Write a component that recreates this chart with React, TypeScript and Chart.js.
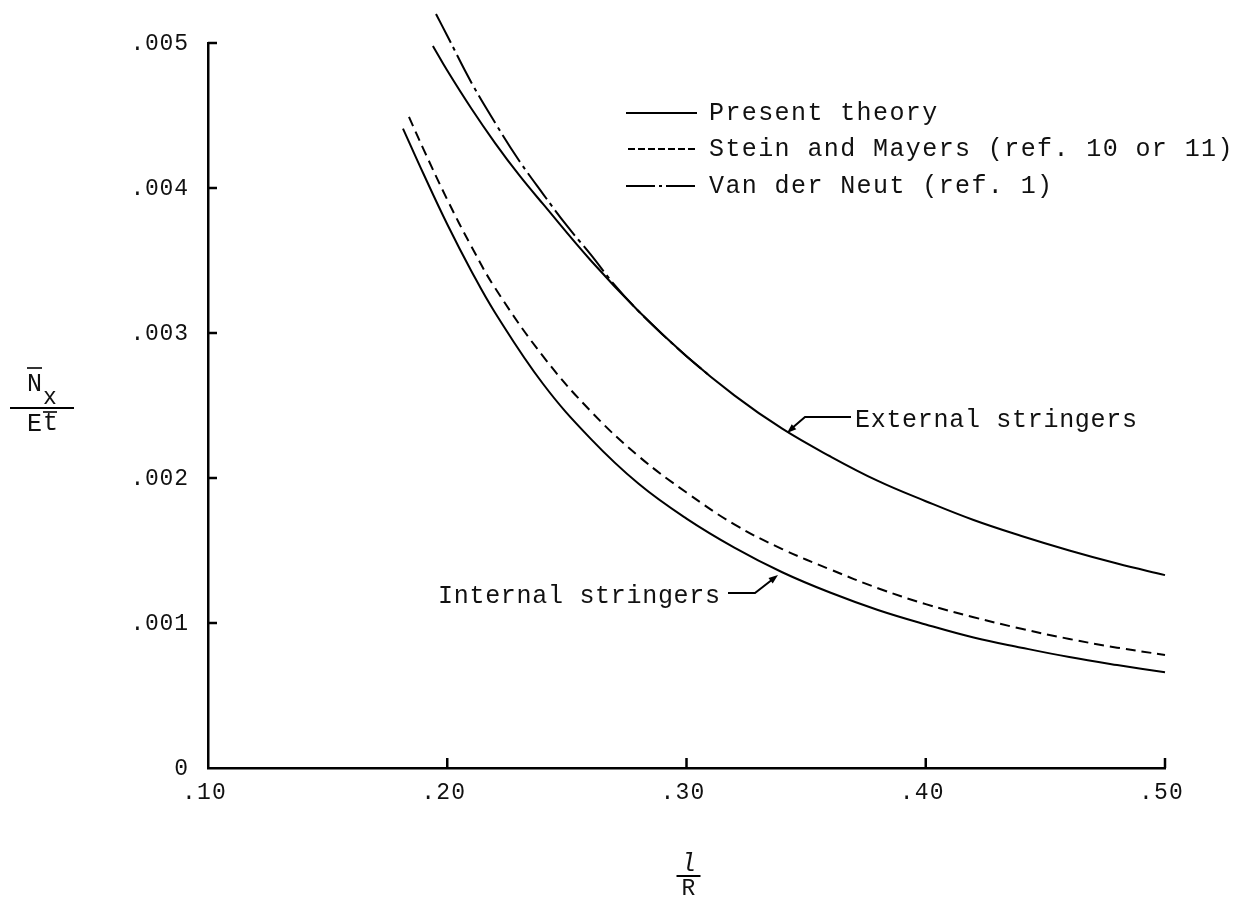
import React, { useEffect, useRef } from "react";
import { Chart, registerables } from "chart.js";

Chart.register(...registerables);

// ---- data ----
const xTickValues = [0.1, 0.2, 0.3, 0.4, 0.5];
const yTickValues = [0, 0.001, 0.002, 0.003, 0.004, 0.005];

const extPresentX = [0.194, 0.2, 0.21, 0.22, 0.23, 0.24, 0.26, 0.28, 0.3, 0.32, 0.34, 0.36, 0.38, 0.4, 0.42, 0.44, 0.46, 0.48, 0.5];
const extPresentY = [0.00498, 0.00481, 0.00455, 0.00431, 0.00409, 0.00389, 0.0035, 0.00315, 0.00284, 0.00257, 0.00234, 0.00215, 0.00198, 0.00184, 0.00171, 0.0016, 0.0015, 0.00141, 0.00133];

const vanDerNeutX = [0.1953, 0.2, 0.21, 0.22, 0.23, 0.24, 0.25, 0.26, 0.27, 0.28, 0.29, 0.3, 0.31];
const vanDerNeutY = [0.0052, 0.00505, 0.00473, 0.00445, 0.00419, 0.00396, 0.00374, 0.00354, 0.00333, 0.00315, 0.00299, 0.00284, 0.0027];

const steinX = [0.184, 0.19, 0.2, 0.21, 0.22, 0.24, 0.26, 0.28, 0.3, 0.32, 0.34, 0.36, 0.38, 0.4, 0.42, 0.44, 0.46, 0.48, 0.5];
const steinY = [0.00449, 0.00427, 0.00392, 0.0036, 0.00331, 0.00284, 0.00246, 0.00215, 0.0019, 0.00168, 0.00151, 0.00137, 0.00124, 0.00113, 0.00104, 0.00096, 0.00089, 0.00083, 0.00078];

const intPresentX = [0.1815, 0.19, 0.2, 0.21, 0.22, 0.24, 0.26, 0.28, 0.3, 0.32, 0.34, 0.36, 0.38, 0.4, 0.42, 0.44, 0.46, 0.48, 0.5];
const intPresentY = [0.00441, 0.0041, 0.00375, 0.00343, 0.00314, 0.00265, 0.00227, 0.00196, 0.00172, 0.00152, 0.00135, 0.00121, 0.00109, 0.00099, 0.0009, 0.00083, 0.000765, 0.00071, 0.00066];

const legendLabels = ["Present theory", "Stein and Mayers (ref. 10 or 11)", "Van der Neut (ref. 1)"];
const externalLabel = "External stringers";
const internalLabel = "Internal stringers";

const FONT = '"Liberation Mono", "DejaVu Sans Mono", monospace';

function pts(xs: number[], ys: number[]) {
  return xs.map((x, i) => ({ x, y: ys[i] }));
}

function fmtX(v: number) {
  return "." + Math.round(v * 100).toString().padStart(2, "0");
}
function fmtY(v: number) {
  if (Math.abs(v) < 1e-12) return "0";
  return "." + Math.round(v * 1000).toString().padStart(3, "0");
}

function drawText(
  ctx: CanvasRenderingContext2D,
  text: string,
  x: number,
  y: number,
  align: "left" | "right" | "center",
  size: number,
  spacing: number,
  style = ""
) {
  ctx.save();
  ctx.font = `${style}${size}px ${FONT}`;
  ctx.fillStyle = "#111";
  ctx.textBaseline = "middle";
  ctx.textAlign = "left";
  (ctx as any).letterSpacing = "0px";
  const w0 = ctx.measureText(text).width;
  const total = w0 + spacing * (text.length - 1);
  const sx = align === "left" ? x : align === "right" ? x - total : x - total / 2;
  (ctx as any).letterSpacing = spacing + "px";
  ctx.fillText(text, sx, y);
  ctx.restore();
}

function line(ctx: CanvasRenderingContext2D, p: number[][], width = 2, dash: number[] = []) {
  ctx.save();
  ctx.strokeStyle = "#000";
  ctx.lineWidth = width;
  ctx.setLineDash(dash);
  ctx.beginPath();
  ctx.moveTo(p[0][0], p[0][1]);
  for (let i = 1; i < p.length; i++) ctx.lineTo(p[i][0], p[i][1]);
  ctx.stroke();
  ctx.restore();
}

function arrowHead(ctx: CanvasRenderingContext2D, fx: number, fy: number, tx: number, ty: number) {
  const ang = Math.atan2(ty - fy, tx - fx);
  const len = 10;
  const spread = 0.35;
  ctx.save();
  ctx.fillStyle = "#000";
  ctx.beginPath();
  ctx.moveTo(tx, ty);
  ctx.lineTo(tx - len * Math.cos(ang - spread), ty - len * Math.sin(ang - spread));
  ctx.lineTo(tx - len * Math.cos(ang + spread), ty - len * Math.sin(ang + spread));
  ctx.closePath();
  ctx.fill();
  ctx.restore();
}

const decorPlugin = {
  id: "decor",
  afterDraw(chart: any) {
    const ctx: CanvasRenderingContext2D = chart.ctx;
    const xs = chart.scales.x;
    const ys = chart.scales.y;
    const area = chart.chartArea;

    // inward ticks
    xs.ticks.forEach((t: any) => {
      const X = xs.getPixelForValue(t.value);
      if (Math.abs(X - area.left) > 2) line(ctx, [[X, area.bottom], [X, area.bottom - 10]], 2.5);
    });
    ys.ticks.forEach((t: any) => {
      const Y = ys.getPixelForValue(t.value);
      if (Math.abs(Y - area.bottom) > 2) line(ctx, [[area.left, Y], [area.left + 9, Y]], 2.5);
    });

    // tick labels
    ys.ticks.forEach((t: any) => {
      const Y = ys.getPixelForValue(t.value);
      drawText(ctx, fmtY(t.value), area.left - 20, Y + 1, "right", 23, 0.8);
    });
    xs.ticks.forEach((t: any) => {
      const X = xs.getPixelForValue(t.value);
      drawText(ctx, fmtX(t.value), X - 4, area.bottom + 25, "center", 23, 1.2);
    });

    // legend
    const lx0 = 618, lx1 = 689, tx = 701;
    const ly = [105, 141, 178];
    line(ctx, [[lx0, ly[0]], [lx1, ly[0]]], 2);
    line(ctx, [[lx0 + 2, ly[1]], [lx1, ly[1]]], 2, [7, 3]);
    line(ctx, [[lx0, ly[2]], [lx1, ly[2]]], 2, [29, 4, 3, 4]);
    legendLabels.forEach((s, i) => drawText(ctx, s, tx, ly[i], "left", 25, 1.4));

    // External stringers annotation
    drawText(ctx, externalLabel, 847, 412, "left", 25, 0.7);
    line(ctx, [[843, 409], [797, 409], [783, 421]], 2);
    arrowHead(ctx, 797, 409, 779, 425);

    // Internal stringers annotation
    drawText(ctx, internalLabel, 712, 588, "right", 25, 0.7);
    line(ctx, [[720, 585], [747, 585], [765, 571]], 2);
    arrowHead(ctx, 747, 585, 770, 567);

    // y-axis title  N_x / E t (with bars)
    line(ctx, [[19, 360], [34, 360]], 1.6);
    drawText(ctx, "N", 19, 376, "left", 25, 0);
    drawText(ctx, "x", 35, 390, "left", 23, 0);
    line(ctx, [[2, 400], [66, 400]], 2);
    drawText(ctx, "E", 19, 416, "left", 25, 0);
    drawText(ctx, "t", 35, 415, "left", 25, 0);
    line(ctx, [[35, 404], [49, 404]], 1.6);

    // x-axis title  l / R
    const cx = (area.left + area.right) / 2 + 2;
    drawText(ctx, "l", cx, 856, "center", 25, 0, "italic ");
    line(ctx, [[cx - 12, 868], [cx + 12, 868]], 2);
    drawText(ctx, "R", cx, 881, "center", 23, 0);
  },
};

export default function App() {
  const ref = useRef<HTMLCanvasElement>(null);

  useEffect(() => {
    const common = {
      borderColor: "#000",
      borderWidth: 2,
      pointRadius: 0,
      fill: false,
      tension: 0.4,
      clip: false as const,
    };
    const chart = new Chart(ref.current!, {
      type: "line",
      data: {
        datasets: [
          { ...common, label: "Present theory (external)", data: pts(extPresentX, extPresentY) },
          { ...common, label: "Van der Neut", data: pts(vanDerNeutX, vanDerNeutY), borderDash: [32, 5, 4, 5] },
          { ...common, label: "Stein and Mayers", data: pts(steinX, steinY), borderDash: [10, 6] },
          { ...common, label: "Present theory (internal)", data: pts(intPresentX, intPresentY) },
        ],
      },
      options: {
        animation: false,
        responsive: true,
        maintainAspectRatio: false,
        layout: { padding: { left: 0, top: 35, right: 68, bottom: 0 } },
        plugins: { legend: { display: false }, tooltip: { enabled: false }, title: { display: false } },
        scales: {
          x: {
            type: "linear",
            min: xTickValues[0],
            max: xTickValues[xTickValues.length - 1],
            ticks: { stepSize: 0.1, display: false },
            grid: { display: false },
            border: { display: true, color: "#000", width: 2.5 },
            afterFit: (s: any) => {
              s.height = 128;
            },
          },
          y: {
            type: "linear",
            min: yTickValues[0],
            max: yTickValues[yTickValues.length - 1],
            ticks: { stepSize: 0.001, display: false },
            grid: { display: false },
            border: { display: true, color: "#000", width: 2.5 },
            afterFit: (s: any) => {
              s.width = 200;
            },
          },
        },
      },
      plugins: [decorPlugin],
    });
    return () => chart.destroy();
  }, []);

  return (
    <div style={{ width: 1225, height: 888, position: "relative" }}>
      <canvas ref={ref} style={{ display: "block" }} />
    </div>
  );
}
